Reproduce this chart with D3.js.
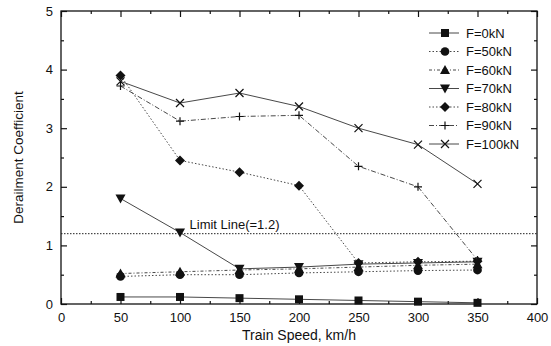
<!DOCTYPE html>
<html>
<head>
<meta charset="utf-8">
<script src="https://cdn.jsdelivr.net/npm/d3@7"></script>
<style>
  body { margin: 0; background: #fff; }
  text { font-family: "Liberation Sans", Arial, sans-serif; fill: #111; }
</style>
</head>
<body>
<svg id="chart" width="551" height="346"></svg>
<script>
// data
var speeds = [50, 100, 150, 200, 250, 300, 350];
var seriesNames = ["F=0kN", "F=50kN", "F=60kN", "F=70kN", "F=80kN", "F=90kN", "F=100kN"];
var f0 = [0.12, 0.12, 0.10, 0.08, 0.06, 0.04, 0.02];
var f50 = [0.47, 0.50, 0.50, 0.53, 0.55, 0.57, 0.58];
var f60 = [0.52, 0.55, 0.58, 0.60, 0.63, 0.66, 0.68];
var f70 = [1.80, 1.22, 0.60, 0.63, 0.68, 0.70, 0.72];
var f80 = [3.90, 2.45, 2.25, 2.02, 0.70, 0.72, 0.73];
var f90 = [3.72, 3.12, 3.20, 3.22, 2.35, 2.00, 0.75];
var f100 = [3.80, 3.43, 3.60, 3.37, 3.00, 2.72, 2.05];
var limitValue = 1.2;
var xTicks = [0, 50, 100, 150, 200, 250, 300, 350, 400];
var yTicks = [0, 1, 2, 3, 4, 5];

var allSeries = [f0, f50, f60, f70, f80, f90, f100];
var symbols = ["square", "circle", "tri-up", "tri-down", "diamond", "plus", "cross"];
var dashes = [null, "1.5,2", "3,2,1,2", null, "1.5,2", "5,2,1,2", null];

var svg = d3.select("#chart");
var margin = {left: 61, right: 14, top: 11, bottom: 42};
var W = 551, H = 346;

var x = d3.scaleLinear().domain([0, 400]).range([margin.left, W - margin.right]);
var y = d3.scaleLinear().domain([0, 5]).range([H - margin.bottom, margin.top]);

// frame
svg.append("rect")
  .attr("x", x(0)).attr("y", y(5))
  .attr("width", x(400) - x(0)).attr("height", y(0) - y(5))
  .attr("fill", "none").attr("stroke", "#111").attr("stroke-width", 1.3);

// axes with inward ticks
var minorX = d3.range(25, 400, 50), minorY = d3.range(0.5, 5, 1);
function tickAxis(axisFn, scale, vals, size, fmt, pad) {
  return axisFn(scale).tickValues(vals).tickSize(size).tickPadding(pad || 6).tickFormat(fmt);
}
var gb = svg.append("g").attr("transform", "translate(0," + y(0) + ")")
  .call(tickAxis(d3.axisBottom, x, xTicks, -6, d3.format("d"), 9));
gb.append("g").call(tickAxis(d3.axisBottom, x, minorX, -3, ""));
var gt = svg.append("g").attr("transform", "translate(0," + y(5) + ")")
  .call(tickAxis(d3.axisTop, x, xTicks, -6, ""));
gt.append("g").call(tickAxis(d3.axisTop, x, minorX, -3, ""));
var gl = svg.append("g").attr("transform", "translate(" + x(0) + ",0)")
  .call(tickAxis(d3.axisLeft, y, yTicks, -6, d3.format("d"), 8));
gl.append("g").call(tickAxis(d3.axisLeft, y, minorY, -3, ""));
var gr = svg.append("g").attr("transform", "translate(" + x(400) + ",0)")
  .call(tickAxis(d3.axisRight, y, yTicks, -6, ""));
gr.append("g").call(tickAxis(d3.axisRight, y, minorY, -3, ""));
svg.selectAll(".domain").remove();
svg.selectAll(".tick line").attr("stroke", "#111").attr("stroke-width", 1.2);
svg.selectAll(".tick text").style("font-size", "13px").attr("fill", "#111");

// axis titles
svg.append("text").attr("x", (x(0) + x(400)) / 2).attr("y", 340)
  .attr("text-anchor", "middle").style("font-size", "14px").text("Train Speed, km/h");
svg.append("text").attr("transform", "translate(23," + (y(2.5)) + ") rotate(-90)")
  .attr("text-anchor", "middle").style("font-size", "13.5px").text("Derailment Coefficient");

// limit line
svg.append("line")
  .attr("x1", x(0)).attr("x2", x(400)).attr("y1", y(limitValue)).attr("y2", y(limitValue))
  .attr("stroke", "#222").attr("stroke-width", 1).attr("stroke-dasharray", "1.5,1.5");
svg.append("text").attr("x", x(108)).attr("y", y(limitValue) - 5)
  .style("font-size", "13px").text("Limit Line(=1.2)");

// marker drawing
function marker(g, kind, cx, cy) {
  var p;
  if (kind === "plus") {
    g.append("path").attr("d", "M" + (cx - 4) + "," + cy + "H" + (cx + 4) + "M" + cx + "," + (cy - 4) + "V" + (cy + 4))
      .attr("stroke", "#111").attr("stroke-width", 1.2).attr("fill", "none");
    return;
  }
  if (kind === "cross") {
    g.append("path").attr("d", "M" + (cx - 4) + "," + (cy - 4) + "L" + (cx + 4) + "," + (cy + 4) + "M" + (cx - 4) + "," + (cy + 4) + "L" + (cx + 4) + "," + (cy - 4))
      .attr("stroke", "#111").attr("stroke-width", 1.2).attr("fill", "none");
    return;
  }
  if (kind === "square") p = d3.symbol(d3.symbolSquare, 64)();
  else if (kind === "circle") p = d3.symbol(d3.symbolCircle, 60)();
  else if (kind === "diamond") p = "M0,-5L5,0L0,5L-5,0Z";
  else if (kind === "tri-up") p = "M0,-5L5,4L-5,4Z";
  else p = "M0,5L5,-4L-5,-4Z";
  g.append("path").attr("d", p)
    .attr("transform", "translate(" + cx + "," + cy + ")").attr("fill", "#111");
}

var line = d3.line().x(function(d, i) { return x(speeds[i]); }).y(function(d) { return y(d); });

allSeries.forEach(function(vals, k) {
  var g = svg.append("g");
  g.append("path").datum(vals).attr("d", line)
    .attr("fill", "none").attr("stroke", "#333").attr("stroke-width", 0.9)
    .attr("stroke-dasharray", dashes[k]);
  vals.forEach(function(v, i) { marker(g, symbols[k], x(speeds[i]), y(v)); });
});

// legend
var legX = 429, legY0 = 33, legStep = 18.5;
seriesNames.forEach(function(name, k) {
  var ly = legY0 + k * legStep;
  var g = svg.append("g");
  g.append("line").attr("x1", legX).attr("x2", legX + 30).attr("y1", ly).attr("y2", ly)
    .attr("stroke", "#333").attr("stroke-width", 0.9).attr("stroke-dasharray", dashes[k]);
  marker(g, symbols[k], legX + 16, ly);
  g.append("text").attr("x", legX + 37).attr("y", ly + 4.5)
    .style("font-size", "13px").text(name);
});
</script>
</body>
</html>
